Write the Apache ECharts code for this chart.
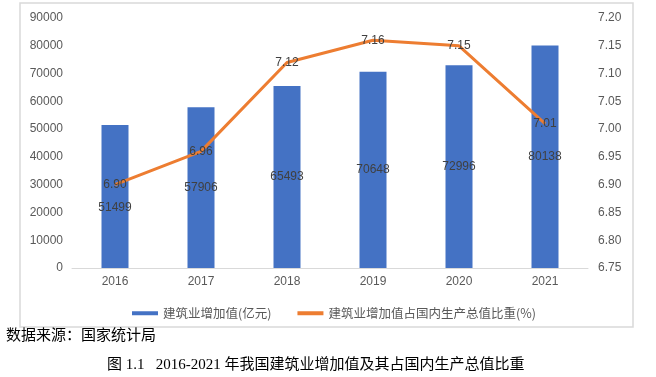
<!DOCTYPE html>
<html>
<head>
<meta charset="utf-8">
<script src="https://cdn.jsdelivr.net/npm/echarts@6/dist/echarts.min.js"></script>
<style>
html,body{margin:0;padding:0;background:#fff;}
#c{width:656px;height:377px;}
</style>
</head>
<body>
<div id="c"></div>
<script>
const years = ['2016', '2017', '2018', '2019', '2020', '2021'];
const addedValue = [51499, 57906, 65493, 70648, 72996, 80138];
const gdpShare = [6.90, 6.96, 7.12, 7.16, 7.15, 7.01];
const barName = '建筑业增加值(亿元)';
const lineName = '建筑业增加值占国内生产总值比重(%)';
const sourceText = '数据来源：国家统计局';
const captionText = '图 1.1   2016-2021 年我国建筑业增加值及其占国内生产总值比重';

const chart = echarts.init(document.getElementById('c'), null, {renderer: 'canvas'});
const numFont = 'Liberation Sans, Arial, sans-serif';
const cjkFont = 'Noto Sans CJK SC, sans-serif';
const serifFont = 'Liberation Serif, Noto Sans CJK SC, serif';

chart.setOption({
  animation: false,
  backgroundColor: '#fff',
  grid: {left: 72, right: 68, top: 18, bottom: 109, containLabel: false},
  legend: {
    left: 127, top: 302,
    itemWidth: 26, itemHeight: 4, itemGap: 26,
    icon: 'rect',
    textStyle: {fontFamily: cjkFont, fontSize: 12.5, color: '#595959'},
    data: [barName, lineName]
  },
  xAxis: {
    type: 'category', data: years,
    axisLine: {lineStyle: {color: '#d9d9d9', width: 1}},
    axisTick: {show: false},
    axisLabel: {color: '#595959', fontSize: 12, fontFamily: numFont, margin: 8}
  },
  yAxis: [
    {
      type: 'value', min: 0, max: 90000, interval: 10000,
      splitLine: {show: false}, axisLine: {show: false}, axisTick: {show: false},
      axisLabel: {color: '#595959', fontSize: 12, fontFamily: numFont, margin: 9,
        formatter: v => String(v)}
    },
    {
      type: 'value', min: 6.75, max: 7.20, interval: 0.05,
      splitLine: {show: false}, axisLine: {show: false}, axisTick: {show: false},
      axisLabel: {color: '#595959', fontSize: 12, fontFamily: numFont, margin: 10,
        formatter: v => v.toFixed(2)}
    }
  ],
  series: [
    {
      name: barName, type: 'bar', barWidth: 27, yAxisIndex: 0,
      itemStyle: {color: '#4472C4'},
      data: addedValue.map((v, i) => i === 0 ? {value: v, label: {offset: [0, 11]}} : v),
      label: {show: true, position: 'inside', color: '#404040', fontSize: 12, fontFamily: numFont}
    },
    {
      name: lineName, type: 'line', yAxisIndex: 1,
      data: gdpShare,
      showSymbol: true, symbol: 'circle', symbolSize: 1,
      lineStyle: {color: '#ED7D31', width: 3},
      itemStyle: {color: '#ED7D31'},
      label: {show: true, position: 'inside', color: '#404040', fontSize: 12, fontFamily: numFont,
        formatter: p => p.value.toFixed(2)},
      z: 3
    }
  ],
  graphic: [
    {type: 'rect', shape: {x: 20, y: 3, width: 613, height: 324},
     style: {fill: 'none', stroke: '#d9d9d9', lineWidth: 1.5}, silent: true, z: -1},
    {type: 'text', left: 6, top: 329,
     style: {text: sourceText, font: '15px ' + serifFont, fill: '#000'}},
    {type: 'text', left: 107, top: 358,
     style: {text: captionText, font: '15px ' + serifFont, fill: '#000'}}
  ]
});
</script>
</body>
</html>
